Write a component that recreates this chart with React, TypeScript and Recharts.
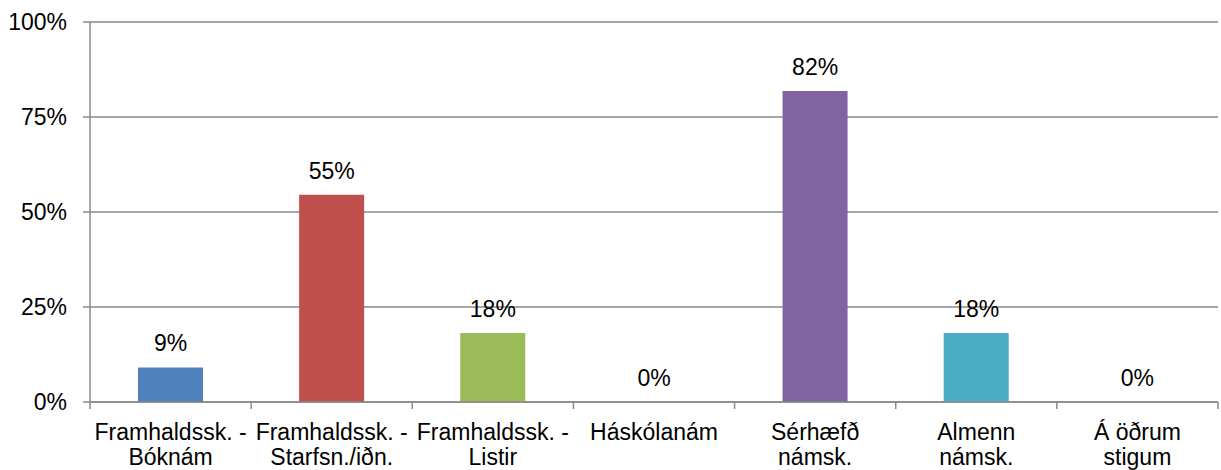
import React from 'react';
import { ComposedChart, Bar, Line, XAxis, YAxis, CartesianGrid, Cell, LabelList } from 'recharts';

const categories = [
  ['Framhaldssk. -', 'Bóknám'],
  ['Framhaldssk. -', 'Starfsn./iðn.'],
  ['Framhaldssk. -', 'Listir'],
  ['Háskólanám'],
  ['Sérhæfð', 'námsk.'],
  ['Almenn', 'námsk.'],
  ['Á öðrum', 'stigum'],
];
const shares = [0.0909, 0.5455, 0.1818, 0, 0.8182, 0.1818, 0];
const barColors = ['#4F81BD', '#C0504D', '#9BBB59', '#8064A2', '#8064A2', '#4BACC6', '#F79646'];
const yTicks = [0, 0.25, 0.5, 0.75, 1];

const W = 1221;
const H = 470;
const LEFT = 90;
const RIGHT = 3;
const FONT = '"Liberation Sans", Arial, sans-serif';
const FS = 23;
const AXIS = '#898989';

const data = categories.map((lines, i) => ({
  name: lines.join(' '),
  lines,
  value: shares[i],
}));

const pct = (v: number) => `${Math.round(v * 100)}%`;

const band = (W - LEFT - RIGHT) / categories.length;

const CategoryTick = (props: any) => {
  const { x, y, index } = props;
  const lines: string[] = data[index]?.lines ?? [];
  const top = y - 8; // axis line position
  return (
    <g>
      <line x1={x - band / 2} x2={x - band / 2} y1={top} y2={top + 7} stroke={AXIS} strokeWidth={1.5} />
      {index === categories.length - 1 && (
        <line x1={x + band / 2} x2={x + band / 2} y1={top} y2={top + 7} stroke={AXIS} strokeWidth={1.5} />
      )}
      {lines.map((l, k) => (
        <text
          key={k}
          x={x}
          y={top + 38 + k * 25}
          textAnchor="middle"
          fontSize={FS}
          fontFamily={FONT}
          fill="#000"
        >
          {l}
        </text>
      ))}
    </g>
  );
};

export default function App() {
  return (
    <div style={{ position: 'absolute', left: 0, top: 0, width: W, height: H, background: '#fff' }}>
      <ComposedChart
        width={W}
        height={H}
        data={data}
        margin={{ top: 22, right: RIGHT, bottom: 0, left: 0 }}
        barSize={65}
      >
        <CartesianGrid vertical={false} stroke={AXIS} strokeWidth={1.5} />
        <XAxis
          dataKey="name"
          height={68}
          interval={0}
          tickLine={false}
          tickSize={0}
          tickMargin={8}
          stroke={AXIS}
          strokeWidth={1.5}
          tick={<CategoryTick />}
        />
        <YAxis
          width={LEFT}
          domain={[0, 1]}
          ticks={yTicks}
          tickFormatter={pct}
          tickSize={7}
          tickMargin={16}
          stroke={AXIS}
          strokeWidth={1.5}
          tick={{ fontSize: FS, fontFamily: FONT, fill: '#000' }}
        />
        <Bar dataKey="value" isAnimationActive={false}>
          {data.map((d, i) => (
            <Cell key={d.name} fill={barColors[i]} />
          ))}
        </Bar>
        {/* invisible series only to carry the value labels (zero bars included) */}
        <Line
          dataKey="value"
          stroke="none"
          dot={false}
          activeDot={false}
          legendType="none"
          isAnimationActive={false}
        >
          <LabelList
            dataKey="value"
            position="top"
            offset={16}
            formatter={(v: any) => pct(Number(v))}
            style={{ fontSize: FS, fontFamily: FONT, fill: '#000' }}
          />
        </Line>
      </ComposedChart>
    </div>
  );
}
